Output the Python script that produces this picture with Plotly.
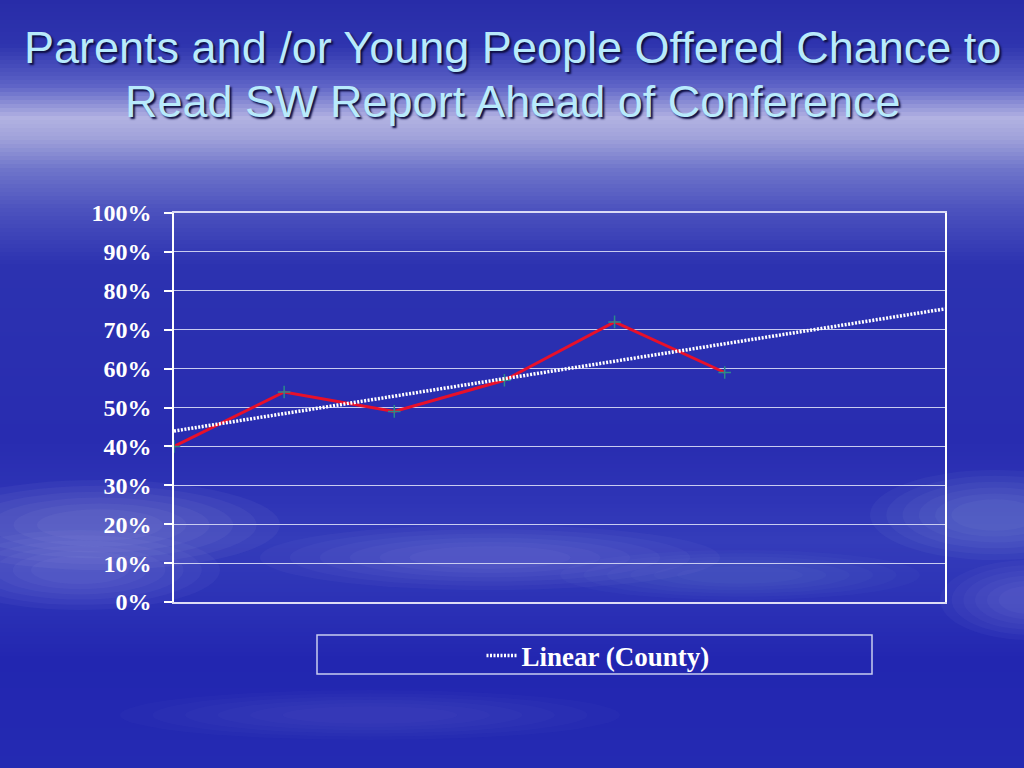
import numpy as np
import plotly.graph_objects as go

# ---- data ----
categories = [1, 2, 3, 4, 5, 6, 7, 8]
county = [0.40, 0.54, 0.49, 0.57, 0.72, 0.59]
y_ticks = [0.0, 0.1, 0.2, 0.3, 0.4, 0.5, 0.6, 0.7, 0.8, 0.9, 1.0]
title_lines = ["Parents and /or Young People Offered Chance to",
               "Read SW Report Ahead of Conference"]
legend_name = "Linear (County)"

# linear trendline (least squares over the observed points, forecast to the last category)
x_obs = np.array(categories[:len(county)], dtype=float)
slope, intercept = np.polyfit(x_obs, np.array(county), 1)
trend_x = [categories[0], categories[-1]]
trend_y = [intercept + slope * v for v in trend_x]

# ---- layout geometry (pixels) ----
W, H = 1024, 768
L, R, T, B = 174, 945, 213, 602

def px(x):
    return (x - L) / (R - L)

def py(y):
    return (B - y) / (B - T)

fig = go.Figure()

fig.add_trace(go.Scatter(
    x=categories[:len(county)], y=county, mode="lines+markers",
    line=dict(color="#e8102a", width=3),
    marker=dict(symbol="cross-thin", size=9, line=dict(color="#2a8a8a", width=1.5)),
    showlegend=False, cliponaxis=False, hoverinfo="skip",
))
fig.add_trace(go.Scatter(
    x=trend_x, y=trend_y, mode="lines", name=legend_name,
    line=dict(color="#ffffff", width=3.5, dash="2px,1.5px"),
    cliponaxis=False, hoverinfo="skip",
))

# ---- background gradient (bands) ----
stops = [
    (0, (40, 44, 168)), (45, (46, 52, 174)), (85, (92, 98, 198)),
    (118, (178, 178, 226)), (138, (160, 162, 218)), (170, (110, 116, 202)),
    (210, (76, 82, 190)), (265, (44, 50, 176)), (440, (40, 44, 176)),
    (500, (46, 52, 182)), (540, (52, 60, 186)), (600, (44, 50, 182)),
    (660, (34, 38, 176)), (768, (36, 42, 178)),
]
shapes = []
step = 4
for y0 in range(0, H, step):
    yc = y0 + step / 2
    for (a, ca), (b, cb) in zip(stops[:-1], stops[1:]):
        if a <= yc <= b:
            t = (yc - a) / (b - a)
            c = tuple(int(round(ca[i] + (cb[i] - ca[i]) * t)) for i in range(3))
            break
    shapes.append(dict(
        type="rect", xref="paper", yref="paper", layer="below",
        x0=px(0), x1=px(W), y0=py(y0 + step + 0.5), y1=py(y0),
        fillcolor="rgb(%d,%d,%d)" % c, line=dict(width=0),
    ))

# soft cloud wisps (decorative background, layered for soft edges)
clouds = [
    (-80, 480, 280, 570, 0.20), (-60, 530, 220, 610, 0.16),
    (260, 525, 720, 590, 0.14), (560, 550, 920, 600, 0.10),
    (870, 470, 1120, 560, 0.18), (940, 560, 1120, 640, 0.14),
    (120, 690, 620, 740, 0.07),
]
layers = 6
for x0, y0, x1, y1, op in clouds:
    cx, cy = (x0 + x1) / 2, (y0 + y1) / 2
    hw, hh = (x1 - x0) / 2, (y1 - y0) / 2
    for k in range(layers):
        f = 1.0 - 0.13 * k
        shapes.append(dict(
            type="circle", xref="paper", yref="paper", layer="below",
            x0=px(cx - hw * f), x1=px(cx + hw * f),
            y0=py(cy + hh * f), y1=py(cy - hh * f),
            fillcolor="#c8ccf4", opacity=op / layers * 1.6, line=dict(width=0),
        ))

# legend frame
shapes.append(dict(
    type="rect", xref="paper", yref="paper", layer="above",
    x0=px(317), x1=px(872), y0=py(674), y1=py(635),
    line=dict(color="#c8cdf0", width=1.5), fillcolor="rgba(0,0,0,0)",
))

title_font = dict(family="Liberation Sans, Arial", size=45, color="#b8eafc",
                  shadow="2px 2px 2px #0c0c40")
annotations = []
for text, yc in zip(title_lines, [47, 101]):
    annotations.append(dict(
        text=text, xref="paper", yref="paper", x=px(512.5), y=py(yc),
        xanchor="center", yanchor="middle", showarrow=False, font=title_font,
    ))

fig.update_layout(
    width=W, height=H,
    margin=dict(l=L, r=W - R, t=T, b=H - B, pad=0),
    paper_bgcolor="#2a30b0",
    plot_bgcolor="rgba(0,0,0,0)",
    shapes=shapes,
    annotations=annotations,
    hovermode=False,
    xaxis=dict(
        range=[categories[0], categories[-1]], showgrid=False, zeroline=False,
        showticklabels=False, ticks="", showline=True, mirror=True,
        linecolor="#dcdcf6", linewidth=1.5,
    ),
    yaxis=dict(
        range=[0, 1], tickvals=y_ticks, tickformat=".0%",
        showgrid=True, gridcolor="#c8ccf0", gridwidth=1.2, zeroline=False,
        showline=True, mirror=True, linecolor="#ffffff", linewidth=1.5,
        ticks="outside", ticklen=8, tickcolor="#ffffff", tickwidth=1.5,
        tickfont=dict(family="Liberation Serif, Times New Roman", size=24,
                      color="#ffffff", weight="bold"),
        ticklabelstandoff=8,
    ),
    showlegend=True,
    legend=dict(
        x=px(598), xanchor="center", y=py(656), yanchor="middle",
        xref="paper", yref="paper", orientation="h",
        bgcolor="rgba(0,0,0,0)", borderwidth=0,
        font=dict(family="Liberation Serif, Times New Roman", size=27,
                  color="#ffffff", weight="bold"),
    ),
)

fig.write_html("out.html", config={"displayModeBar": False},
               post_script="document.body.style.margin='0px';")
